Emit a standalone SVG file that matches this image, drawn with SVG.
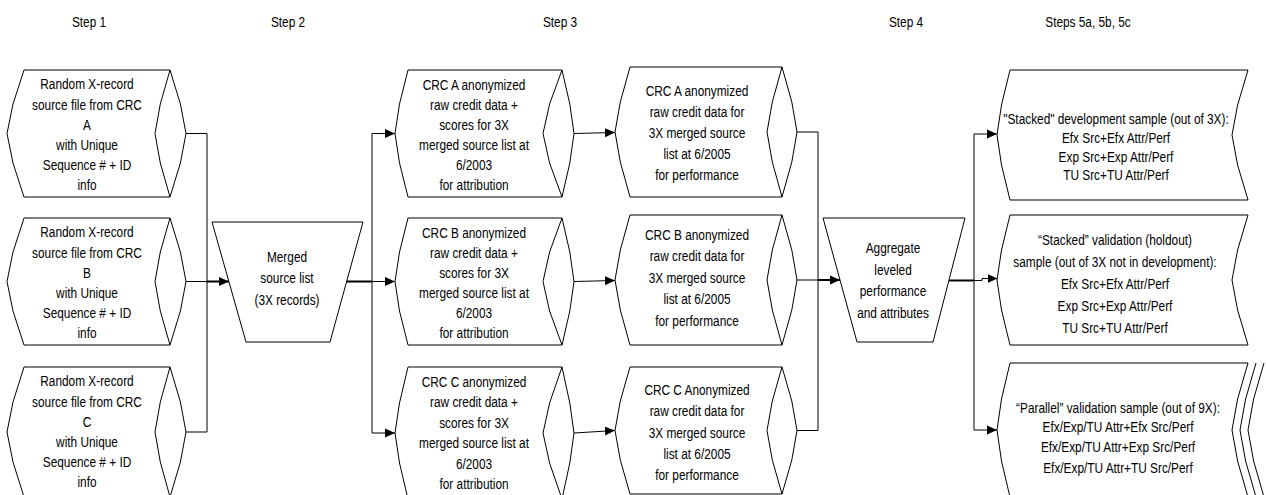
<svg xmlns="http://www.w3.org/2000/svg" width="1266" height="495" viewBox="0 0 1266 495">
<style>
.s{fill:#fff;stroke:#000;stroke-width:1}
.i{fill:none;stroke:#000;stroke-width:1}
.c{fill:none;stroke:#000;stroke-width:1}
.k{fill:none;stroke:#000;stroke-width:2}
text{font-family:"Liberation Sans",Arial,sans-serif;font-size:15px;fill:#000;text-anchor:middle}
</style>
<defs>
<marker id="ah" markerWidth="10" markerHeight="10" refX="10" refY="5" orient="auto" markerUnits="userSpaceOnUse"><path d="M0,0.5 L10,5 L0,9.5 Z" fill="#000"/></marker>
</defs>
<rect width="1266" height="495" fill="#fff"/>
<g id="headers">
<text transform="translate(89,0) scale(0.79,1)" x="0" y="27">Step  1</text>
<text transform="translate(288,0) scale(0.79,1)" x="0" y="27">Step  2</text>
<text transform="translate(560,0) scale(0.79,1)" x="0" y="27">Step  3</text>
<text transform="translate(906,0) scale(0.79,1)" x="0" y="27">Step  4</text>
<text transform="translate(1088,0) scale(0.79,1)" x="0" y="27">Steps  5a,  5b,  5c</text>
</g>
<g id="connectors">
<path class="c" d="M186,133.5 H207 V432 H186"/>
<path class="c" d="M186,281.5 H207"/>
<path class="k" d="M207,281.5 H229" marker-end="url(#ah)"/>
<path class="k" d="M346.5,281.5 H372"/>
<path class="c" d="M372,281.5 H395" marker-end="url(#ah)"/>
<path class="c" d="M372,133.5 H395" marker-end="url(#ah)"/>
<path class="c" d="M372,133.5 V433 H395" marker-end="url(#ah)"/>
<path class="c" d="M574,133.5 L615,132.5" marker-end="url(#ah)"/>
<path class="c" d="M574,281.5 L615,280.5" marker-end="url(#ah)"/>
<path class="c" d="M574,433 L615,430.5" marker-end="url(#ah)"/>
<path class="c" d="M797,132 H818 V430.5 H797"/>
<path class="c" d="M797,280 H818"/>
<path class="k" d="M818,280 H840" marker-end="url(#ah)"/>
<path class="k" d="M949,280.5 H974"/>
<path class="c" d="M974,280.5 H982 V278.5 H997.5" marker-end="url(#ah)"/>
<path class="c" d="M974,134 H997" marker-end="url(#ah)"/>
<path class="c" d="M974,134 V430 H997" marker-end="url(#ah)"/>
</g>
<g id="src-a">
<path class="s" d="M24,70 H170 L180.4,104 L186,133.5 L180.4,163 L170,197 H24 L13,163 L7,133.5 L13,104 Z"/>
<path class="i" d="M170,70 L160.3,104 L155,133.5 L160.3,163 L170,197"/>
<text transform="translate(87,0) scale(0.79,1)"><tspan x="0" y="89.5">Random X-record</tspan><tspan x="0" y="109.7">source file from CRC</tspan><tspan x="0" y="129.9">A</tspan><tspan x="0" y="150.1">with Unique</tspan><tspan x="0" y="170.3">Sequence # + ID</tspan><tspan x="0" y="190.5">info</tspan></text>
</g>
<g id="src-b">
<path class="s" d="M24,218 H170 L180.4,252 L186,281.5 L180.4,311 L170,345 H24 L13,311 L7,281.5 L13,252 Z"/>
<path class="i" d="M170,218 L160.3,252 L155,281.5 L160.3,311 L170,345"/>
<text transform="translate(87,0) scale(0.79,1)"><tspan x="0" y="237.5">Random X-record</tspan><tspan x="0" y="257.7">source file from CRC</tspan><tspan x="0" y="277.9">B</tspan><tspan x="0" y="298.1">with Unique</tspan><tspan x="0" y="318.3">Sequence # + ID</tspan><tspan x="0" y="338.5">info</tspan></text>
</g>
<g id="src-c">
<path class="s" d="M24,367 H170 L180.4,402 L186,432 L180.4,462 L170,497 H24 L13,462 L7,432 L13,402 Z"/>
<path class="i" d="M170,367 L160.3,402 L155,432 L160.3,462 L170,497"/>
<text transform="translate(87,0) scale(0.79,1)"><tspan x="0" y="386.5">Random X-record</tspan><tspan x="0" y="406.7">source file from CRC</tspan><tspan x="0" y="426.9">C</tspan><tspan x="0" y="447.1">with Unique</tspan><tspan x="0" y="467.3">Sequence # + ID</tspan><tspan x="0" y="487.5">info</tspan></text>
</g>
<g id="merged">
<path class="s" d="M212,222 H363 L330,342 H246 Z"/>
<text transform="translate(287,0) scale(0.79,1)"><tspan x="0" y="262">Merged</tspan><tspan x="0" y="283.5">source list</tspan><tspan x="0" y="305">(3X records)</tspan></text>
</g>
<g id="attr-a">
<path class="s" d="M408,70 H562 L569.8,104 L574,133.5 L569.8,163 L562,197 H408 L399.5,163 L395,133.5 L399.5,104 Z"/>
<path class="i" d="M562,70 L549.6,104 L543,133.5 L549.6,163 L562,197"/>
<text transform="translate(474,0) scale(0.79,1)"><tspan x="0" y="90">CRC A anonymized</tspan><tspan x="0" y="110">raw credit data +</tspan><tspan x="0" y="130">scores for 3X</tspan><tspan x="0" y="150">merged source list at</tspan><tspan x="0" y="170">6/2003</tspan><tspan x="0" y="190">for attribution</tspan></text>
</g>
<g id="attr-b">
<path class="s" d="M408,218 H562 L569.8,252 L574,281.5 L569.8,311 L562,345 H408 L399.5,311 L395,281.5 L399.5,252 Z"/>
<path class="i" d="M562,218 L549.6,252 L543,281.5 L549.6,311 L562,345"/>
<text transform="translate(474,0) scale(0.79,1)"><tspan x="0" y="238.5">CRC B anonymized</tspan><tspan x="0" y="258.5">raw credit data +</tspan><tspan x="0" y="278.5">scores for 3X</tspan><tspan x="0" y="298.5">merged source list at</tspan><tspan x="0" y="318.5">6/2003</tspan><tspan x="0" y="338.5">for attribution</tspan></text>
</g>
<g id="attr-c">
<path class="s" d="M408,367 H562 L569.8,403 L574,433 L569.8,463 L562,499 H408 L399.5,463 L395,433 L399.5,403 Z"/>
<path class="i" d="M562,367 L549.6,403 L543,433 L549.6,463 L562,499"/>
<text transform="translate(474,0) scale(0.79,1)"><tspan x="0" y="387">CRC C anonymized</tspan><tspan x="0" y="407.4">raw credit data +</tspan><tspan x="0" y="427.8">scores for 3X</tspan><tspan x="0" y="448.2">merged source list at</tspan><tspan x="0" y="468.6">6/2003</tspan><tspan x="0" y="489">for attribution</tspan></text>
</g>
<g id="perf-a">
<path class="s" d="M630,67 H782 L791.8,102 L797,132 L791.8,162 L782,197 H630 L620.3,162 L615,132 L620.3,102 Z"/>
<path class="i" d="M782,67 L772.3,102 L767,132 L772.3,162 L782,197"/>
<text transform="translate(697,0) scale(0.79,1)"><tspan x="0" y="96.5">CRC A anonymized</tspan><tspan x="0" y="117.5">raw credit data for</tspan><tspan x="0" y="138.5">3X merged source</tspan><tspan x="0" y="159.5">list at 6/2005</tspan><tspan x="0" y="180.5">for performance</tspan></text>
</g>
<g id="perf-b">
<path class="s" d="M630,215 H782 L791.8,250 L797,280 L791.8,310 L782,345 H630 L620.3,310 L615,280 L620.3,250 Z"/>
<path class="i" d="M782,215 L772.3,250 L767,280 L772.3,310 L782,345"/>
<text transform="translate(697,0) scale(0.79,1)"><tspan x="0" y="240">CRC B anonymized</tspan><tspan x="0" y="261.5">raw credit data for</tspan><tspan x="0" y="283">3X merged source</tspan><tspan x="0" y="304.5">list at 6/2005</tspan><tspan x="0" y="326">for performance</tspan></text>
</g>
<g id="perf-c">
<path class="s" d="M630,367 H782 L791.8,401 L797,430.5 L791.8,460 L782,494 H630 L620.3,460 L615,430.5 L620.3,401 Z"/>
<path class="i" d="M782,367 L772.3,401 L767,430.5 L772.3,460 L782,494"/>
<text transform="translate(697,0) scale(0.79,1)"><tspan x="0" y="395">CRC C Anonymized</tspan><tspan x="0" y="416.5">raw credit data for</tspan><tspan x="0" y="438">3X merged source</tspan><tspan x="0" y="459.5">list at 6/2005</tspan><tspan x="0" y="480.5">for performance</tspan></text>
</g>
<g id="aggregate">
<path class="s" d="M823,218 H965 L933,342 H857 Z"/>
<text transform="translate(893,0) scale(0.79,1)"><tspan x="0" y="253.5">Aggregate</tspan><tspan x="0" y="275">leveled</tspan><tspan x="0" y="296.5">performance</tspan><tspan x="0" y="318">and attributes</tspan></text>
</g>
<g id="dev">
<path class="s" d="M1010,70 H1248 L1237.6,105 L1232,135 L1237.6,165 L1248,200 H1010 L1001.5,165 L997,135 L1001.5,105 Z"/>
<text transform="translate(1116,0) scale(0.79,1)"><tspan x="0" y="124.5">"Stacked" development sample (out of 3X):</tspan><tspan x="0" y="143.5">Efx Src+Efx Attr/Perf</tspan><tspan x="0" y="162">Exp Src+Exp Attr/Perf</tspan><tspan x="0" y="180.5">TU Src+TU Attr/Perf</tspan></text>
</g>
<g id="validation">
<path class="s" d="M1010,215 H1248 L1237.6,250 L1232,280 L1237.6,310 L1248,345 H1010 L1001.5,310 L997,280 L1001.5,250 Z"/>
<text transform="translate(1115,0) scale(0.79,1)"><tspan x="0" y="245">“Stacked” validation (holdout)</tspan><tspan x="0" y="267">sample (out of 3X not in development):</tspan><tspan x="0" y="289.5">Efx Src+Efx Attr/Perf</tspan><tspan x="0" y="311.5">Exp Src+Exp Attr/Perf</tspan><tspan x="0" y="333.5">TU Src+TU Attr/Perf</tspan></text>
</g>
<g id="parallel">
<path class="s" d="M1010,363 H1248 L1237.6,399 L1232,430 L1237.6,461 L1248,497 H1010 L1001.5,461 L997,430 L1001.5,399 Z"/>
<path class="i" d="M1256,363 L1245.6,399 L1240,430 L1245.6,461 L1256,497"/>
<path class="i" d="M1264,363 L1253.6,399 L1248,430 L1253.6,461 L1264,497"/>
<text transform="translate(1118,0) scale(0.79,1)"><tspan x="0" y="413.5">“Parallel” validation sample (out of 9X):</tspan><tspan x="0" y="432.5">Efx/Exp/TU Attr+Efx Src/Perf</tspan><tspan x="0" y="452">Efx/Exp/TU Attr+Exp Src/Perf</tspan><tspan x="0" y="473">Efx/Exp/TU Attr+TU Src/Perf</tspan></text>
</g>
</svg>
